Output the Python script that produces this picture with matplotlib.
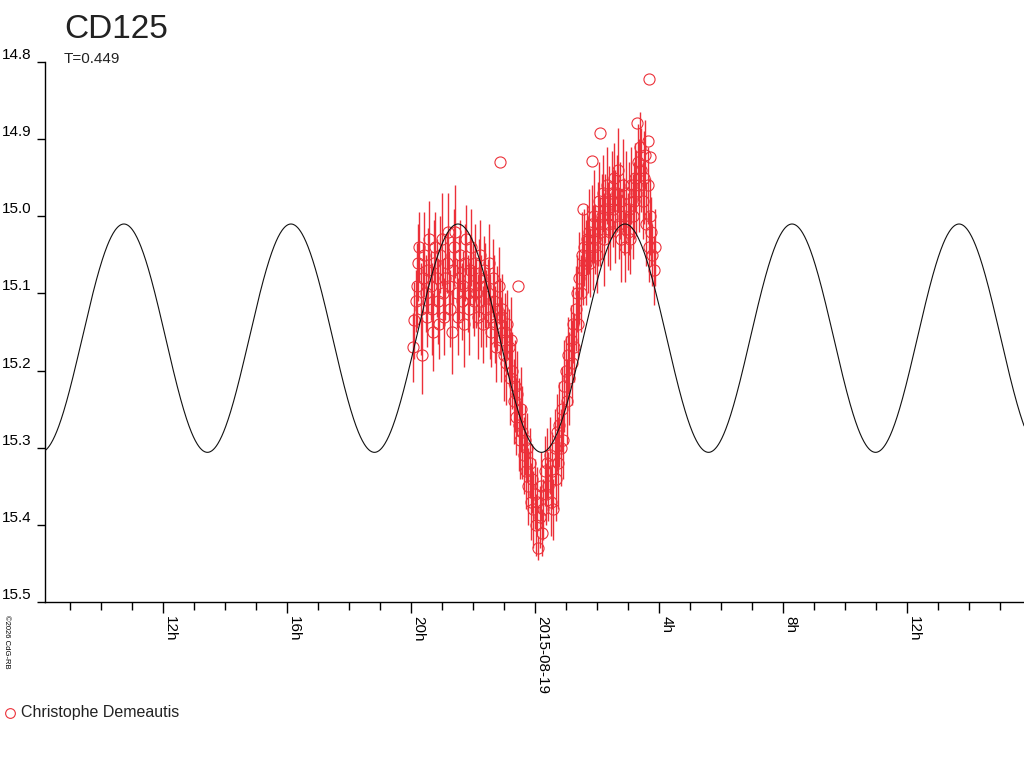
import matplotlib
matplotlib.use('Agg')
import matplotlib.pyplot as plt
from matplotlib.ticker import MultipleLocator
import numpy as np

plt.rcParams['font.family'] = ['Liberation Sans', 'DejaVu Sans']

# light curve of CD125, time in hours from 2015-08-19 00:00 UT
title = 'CD125'
subtitle = 'T=0.449'
observer = 'Christophe Demeautis'
credit = '\u00a92026 CdG-RB'

# fitted model (double wave, half the period on the plot)
period_days = 0.449
model_mean = 15.158
model_amp = 0.148
model_epoch_h = 0.2

obs_t = [
    -3.94, -3.90, -3.86, -3.82, -3.78, -3.74, -3.70, -3.66, -3.62, -3.58,
    -3.54, -3.50, -3.46, -3.42, -3.38, -3.34, -3.30, -3.26, -3.22, -3.18,
    -3.14, -3.10, -3.06, -3.02, -2.98, -2.94, -2.90, -2.86, -2.82, -2.78,
    -2.74, -2.70, -2.66, -2.62, -2.58, -2.54, -2.50, -2.46, -2.42, -2.38,
    -2.34, -2.30, -2.26, -2.22, -2.18, -2.14, -2.10, -2.06, -2.02, -1.98,
    -1.94, -1.90, -1.86, -1.82, -1.78, -1.74, -1.70, -1.66, -1.62, -1.58,
    -1.54, -1.50, -1.46, -1.42, -1.38, -1.34, -1.30, -1.26, -1.22, -1.18,
    -1.14, -1.10, -1.06, -1.02, -0.98, -0.94, -0.90, -0.86, -0.82, -0.78,
    -0.74, -0.70, -0.66, -0.62, -0.58, -0.54, -0.50, -0.46, -0.42, -0.38,
    -0.34, -0.30, -0.26, -0.22, -0.18, -0.14, -0.10, -0.06, -0.02, 0.02,
    0.06, 0.10, 0.14, 0.18, 0.22, 0.26, 0.30, 0.34, 0.38, 0.42,
    0.46, 0.50, 0.54, 0.58, 0.62, 0.66, 0.70, 0.74, 0.78, 0.82,
    0.86, 0.90, 0.94, 0.98, 1.02, 1.06, 1.10, 1.14, 1.18, 1.22,
    1.26, 1.30, 1.34, 1.38, 1.42, 1.46, 1.50, 1.54, 1.58, 1.62,
    1.66, 1.70, 1.74, 1.78, 1.82, 1.86, 1.90, 1.94, 1.98, 2.02,
    2.06, 2.10, 2.14, 2.18, 2.22, 2.26, 2.30, 2.34, 2.38, 2.42,
    2.46, 2.50, 2.54, 2.58, 2.62, 2.66, 2.70, 2.74, 2.78, 2.82,
    2.86, 2.90, 2.94, 2.98, 3.02, 3.06, 3.10, 3.14, 3.18, 3.22,
    3.26, 3.30, 3.34, 3.38, 3.42, 3.46, 3.50, 3.54, 3.58, 3.62,
    3.66, 3.70, 3.74, 3.78, 3.82, 3.86,
]
obs_mag = [
    15.17, 15.135, 15.11, 15.09, 15.06, 15.04, 15.12, 15.18, 15.08, 15.05,
    15.10, 15.13, 15.07, 15.03, 15.09, 15.12, 15.15, 15.06, 15.04, 15.08,
    15.11, 15.14, 15.05, 15.03, 15.10, 15.13, 15.08, 15.06, 15.02, 15.09,
    15.12, 15.15, 15.07, 15.04, 15.02, 15.10, 15.13, 15.08, 15.05, 15.11,
    15.09, 15.14, 15.06, 15.03, 15.10, 15.12, 15.07, 15.04, 15.09, 15.11,
    15.06, 15.10, 15.13, 15.08, 15.05, 15.11, 15.14, 15.07, 15.09, 15.12,
    15.10, 15.06, 15.13, 15.15, 15.08, 15.11, 15.14, 15.17, 15.12, 15.09,
    15.13, 15.16, 15.12, 15.18, 15.15, 15.19, 15.14, 15.17, 15.21, 15.16,
    15.20, 15.24, 15.22, 15.26, 15.23, 15.27, 15.29, 15.25, 15.28, 15.31,
    15.29, 15.33, 15.30, 15.35, 15.32, 15.37, 15.34, 15.38, 15.36, 15.40,
    15.37, 15.43, 15.39, 15.35, 15.41, 15.38, 15.33, 15.36, 15.32, 15.35,
    15.31, 15.37, 15.33, 15.38, 15.30, 15.34, 15.28, 15.32, 15.27, 15.30,
    15.25, 15.29, 15.22, 15.20, 15.24, 15.18, 15.21, 15.16, 15.19, 15.14,
    15.17, 15.12, 15.10, 15.14, 15.08, 15.10, 15.05, 15.07, 15.04, 15.06,
    15.03, 15.05, 15.02, 15.06, 15.01, 15.04, 15.00, 15.03, 15.05, 15.01,
    14.98, 15.02, 15.00, 14.97, 15.03, 14.99, 14.96, 15.01, 14.98, 15.02,
    14.97, 14.99, 14.95, 15.00, 14.97, 14.94, 15.01, 14.98, 15.03, 14.96,
    15.00, 15.04, 14.97, 15.02, 14.99, 15.03, 14.96, 15.00, 14.98, 14.95,
    14.97, 14.93, 14.96, 14.91, 14.94, 14.98, 14.95, 14.92, 15.01, 14.96,
    15.04, 15.00, 15.02, 15.05, 15.07, 15.04,
]
obs_err = [
    0.045, 0.050, 0.040, 0.055, 0.050, 0.045, 0.060, 0.050, 0.045, 0.055,
    0.050, 0.040, 0.055, 0.050, 0.045, 0.060, 0.050, 0.055, 0.045, 0.050,
    0.055, 0.045, 0.050, 0.060, 0.045, 0.050, 0.055, 0.040, 0.050, 0.045,
    0.050, 0.055, 0.045, 0.050, 0.060, 0.045, 0.050, 0.055, 0.045, 0.050,
    0.045, 0.055, 0.050, 0.045, 0.050, 0.060, 0.045, 0.050, 0.055, 0.045,
    0.050, 0.045, 0.055, 0.050, 0.045, 0.060, 0.050, 0.045, 0.055, 0.050,
    0.045, 0.050, 0.055, 0.045, 0.050, 0.060, 0.050, 0.045, 0.055, 0.050,
    0.050, 0.055, 0.045, 0.060, 0.050, 0.055, 0.045, 0.050, 0.060, 0.055,
    0.050, 0.055, 0.060, 0.050, 0.055, 0.060, 0.050, 0.055, 0.060, 0.050,
    0.045, 0.050, 0.045, 0.050, 0.045, 0.050, 0.045, 0.050, 0.045, 0.040,
    0.045, 0.015, 0.040, 0.045, 0.030, 0.040, 0.045, 0.040, 0.045, 0.045,
    0.050, 0.045, 0.050, 0.040, 0.050, 0.055, 0.050, 0.060, 0.055, 0.050,
    0.055, 0.050, 0.060, 0.045, 0.055, 0.050, 0.060, 0.045, 0.055, 0.050,
    0.045, 0.055, 0.050, 0.045, 0.060, 0.050, 0.055, 0.045, 0.050, 0.055,
    0.045, 0.050, 0.055, 0.045, 0.050, 0.055, 0.060, 0.045, 0.050, 0.055,
    0.050, 0.045, 0.055, 0.050, 0.060, 0.045, 0.050, 0.055, 0.045, 0.050,
    0.055, 0.050, 0.045, 0.060, 0.050, 0.055, 0.045, 0.050, 0.055, 0.060,
    0.050, 0.045, 0.055, 0.050, 0.060, 0.045, 0.050, 0.055, 0.050, 0.045,
    0.055, 0.050, 0.060, 0.045, 0.055, 0.050, 0.060, 0.045, 0.055, 0.050,
    0.045, 0.050, 0.045, 0.040, 0.045, 0.050,
]

# isolated points drawn without error bars
out_t = [-1.14, -0.56, 1.54, 1.83, 2.09, 3.28, 3.63, 3.66, 3.70]
out_mag = [14.93, 15.09, 14.99, 14.928, 14.892, 14.879, 14.902, 14.822, 14.923]

tick_hours = [-12, -8, -4, 0, 4, 8, 12]
tick_names = ['12h', '16h', '20h', '2015-08-19', '4h', '8h', '12h']
mag_ticks = [14.8, 14.9, 15.0, 15.1, 15.2, 15.3, 15.4, 15.5]

red = '#ec3039'

fig = plt.figure(figsize=(10.24, 7.68), dpi=100)
ax = fig.add_axes([45/1024, 1 - 602/768, 979/1024, 540/768])

x0, x1 = -15.816, 15.765
tt = np.linspace(x0, x1, 2000)
half_period_h = period_days * 24 / 2
model = model_mean + model_amp * np.cos(2 * np.pi * (tt - model_epoch_h) / half_period_h)

ax.errorbar(obs_t, obs_mag, yerr=obs_err, fmt='o', ms=8, mfc='none', mec=red,
            mew=0.8, ecolor=red, elinewidth=1.0, capsize=0, zorder=2)
ax.plot(out_t, out_mag, 'o', ms=8, mfc='none', mec=red, mew=0.8, zorder=2)
ax.plot(tt, model, color='#111111', lw=0.8, zorder=3)

ax.set_xlim(x0, x1)
ax.set_ylim(15.5, 14.8)

for s in ['top', 'right']:
    ax.spines[s].set_visible(False)
for s in ['left', 'bottom']:
    ax.spines[s].set_linewidth(1.0)

ax.set_xticks(tick_hours)
ax.set_xticklabels(tick_names)
ax.xaxis.set_minor_locator(MultipleLocator(1))
ax.tick_params(axis='x', which='major', length=8, width=1, pad=2, labelsize=11)
ax.tick_params(axis='x', which='minor', length=6, width=1)
for lab in ax.get_xticklabels():
    lab.set_rotation(270)
    lab.set_ha('left')
    lab.set_va('top')

ax.set_yticks(mag_ticks)
ax.set_yticklabels(['%.1f' % m for m in mag_ticks])
ax.tick_params(axis='y', length=6, width=1, pad=4, labelsize=11)
for lab in ax.get_yticklabels():
    lab.set_va('bottom')

fig.text(64/1024, 1 - 38/768, title, fontsize=24, va='baseline', color='#222222')
fig.text(64/1024, 1 - 63/768, subtitle, fontsize=11, va='baseline', color='#222222')
fig.text(3/1024, 1 - 615/768, credit, fontsize=5.5, rotation=270, ha='left', va='top')

fig.lines.append(plt.Line2D([10/1024], [1 - 713/768], marker='o', ms=7, mfc='none',
                            mec=red, mew=0.8, transform=fig.transFigure))
fig.text(21/1024, 1 - 713/768, observer, fontsize=11.5, va='center', color='#222222')

fig.savefig('out.png', dpi=100)
